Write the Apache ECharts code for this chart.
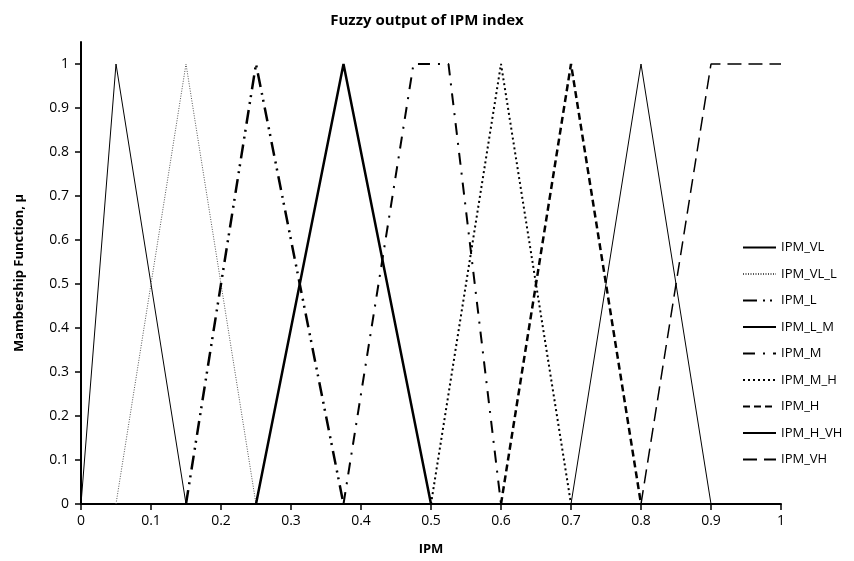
<!DOCTYPE html>
<html>
<head>
<meta charset="utf-8">
<script src="https://cdn.jsdelivr.net/npm/echarts@6/dist/echarts.min.js"></script>
<style>
html, body { margin: 0; padding: 0; background: #fff; }
#main { width: 854px; height: 561px; }
</style>
</head>
<body>
<div id="main"></div>
<script>
// membership functions: breakpoints (x) and membership values (y)
var names = ['IPM_VL', 'IPM_VL_L', 'IPM_L', 'IPM_L_M', 'IPM_M', 'IPM_M_H', 'IPM_H', 'IPM_H_VH', 'IPM_VH'];
var vlX = [0, 0.05, 0.15],        vlY = [0, 1, 0];
var vllX = [0.05, 0.15, 0.25],    vllY = [0, 1, 0];
var lX = [0.15, 0.25, 0.375],     lY = [0, 1, 0];
var lmX = [0.25, 0.375, 0.5],     lmY = [0, 1, 0];
var mX = [0.375, 0.475, 0.525, 0.6], mY = [0, 1, 1, 0];
var mhX = [0.5, 0.6, 0.7],        mhY = [0, 1, 0];
var hX = [0.6, 0.7, 0.8],         hY = [0, 1, 0];
var hvhX = [0.7, 0.8, 0.9],       hvhY = [0, 1, 0];
var vhX = [0.8, 0.9, 1],          vhY = [0, 1, 1];
var yTicks = [0, 0.1, 0.2, 0.3, 0.4, 0.5, 0.6, 0.7, 0.8, 0.9, 1];

var xs = [vlX, vllX, lX, lmX, mX, mhX, hX, hvhX, vhX];
var ys = [vlY, vllY, lY, lmY, mY, mhY, hY, hvhY, vhY];

// line looks, in the same order as names
var styles = [
    { width: 1, type: 'solid', color: '#000' },
    { width: 1, type: [1, 1.5], color: '#555' },
    { width: 2.5, type: [14, 6, 2, 5, 2, 6], color: '#000' },
    { width: 2.5, type: 'solid', color: '#000' },
    { width: 2, type: [12, 8, 2, 8], color: '#000' },
    { width: 2, type: [2, 3], color: '#000' },
    { width: 2.5, type: [7, 4], color: '#000' },
    { width: 1, type: 'solid', color: '#000' },
    { width: 1.5, type: [14, 7], color: '#000' }
];

var font = '"Open Sans", "Noto Sans", sans-serif';

var series = names.map(function (n, i) {
    return {
        name: n,
        type: 'line',
        symbol: 'none',
        data: xs[i].map(function (x, j) { return [x, ys[i][j]]; }),
        lineStyle: { width: styles[i].width, type: styles[i].type, color: styles[i].color },
        itemStyle: { color: styles[i].color },
        animation: false
    };
});

var chart = echarts.init(document.getElementById('main'), null, { renderer: 'canvas' });
chart.setOption({
    backgroundColor: '#fff',
    title: {
        text: 'Fuzzy output of IPM index',
        left: 'center',
        top: 8,
        textStyle: { fontFamily: font, fontSize: 15, fontWeight: 'bold', color: '#000' }
    },
    legend: {
        orient: 'vertical',
        left: 737,
        top: 236,
        itemWidth: 33,
        itemHeight: 14,
        itemGap: 13.5,
        data: names,
        itemStyle: { opacity: 0 },
        textStyle: { fontFamily: font, fontSize: 13, color: '#000' }
    },
    grid: { left: 81, right: 73, top: 42, bottom: 56 },
    xAxis: {
        type: 'value',
        min: 0,
        max: 1,
        interval: 0.1,
        name: 'IPM',
        nameLocation: 'middle',
        nameGap: 39,
        nameTextStyle: { fontFamily: font, fontSize: 13, fontWeight: 'bold', color: '#000' },
        axisLine: { show: true, lineStyle: { color: '#000', width: 2 } },
        axisTick: { show: true, inside: false, length: 6, lineStyle: { color: '#000', width: 1.5 } },
        axisLabel: { fontFamily: font, fontSize: 14, color: '#000', margin: 10 },
        splitLine: { show: false }
    },
    yAxis: {
        type: 'value',
        min: 0,
        max: 1.05,
        name: 'Mambership Function, μ',
        nameLocation: 'middle',
        nameRotate: 90,
        nameGap: 55,
        nameTextStyle: { fontFamily: font, fontSize: 13, fontWeight: 'bold', color: '#000' },
        axisLine: { show: true, lineStyle: { color: '#000', width: 2 } },
        axisTick: { show: true, inside: false, length: 6, customValues: yTicks, lineStyle: { color: '#000', width: 1.5 } },
        axisLabel: { fontFamily: font, fontSize: 14, color: '#000', margin: 12, customValues: yTicks },
        splitLine: { show: false }
    },
    series: series
});
</script>
</body>
</html>
